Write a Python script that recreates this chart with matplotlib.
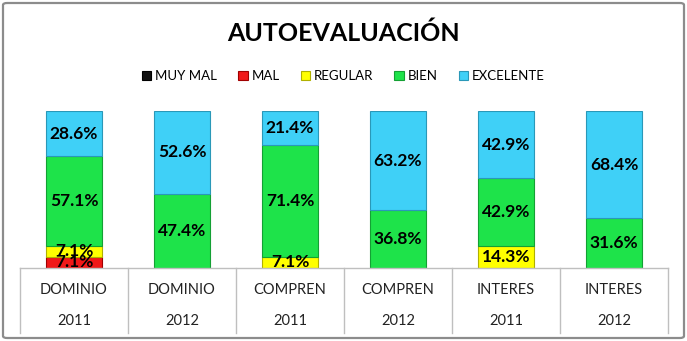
import matplotlib
matplotlib.use('agg')
import matplotlib.pyplot as plt
import numpy as np
from matplotlib.patches import FancyBboxPatch

plt.rcParams['font.family'] = ['Lato', 'DejaVu Sans']

# survey results (% of answers) per area and year
areas = ["DOMINIO", "DOMINIO", "COMPREN", "COMPREN", "INTERES", "INTERES"]
years = ["2011", "2012", "2011", "2012", "2011", "2012"]
levels = ["MUY MAL", "MAL", "REGULAR", "BIEN", "EXCELENTE"]
muy_mal = [0.0, 0.0, 0.0, 0.0, 0.0, 0.0]
mal = [7.1, 0.0, 0.0, 0.0, 0.0, 0.0]
regular = [7.1, 0.0, 7.1, 0.0, 14.3, 0.0]
bien = [57.1, 47.4, 71.4, 36.8, 42.9, 31.6]
excelente = [28.6, 52.6, 21.4, 63.2, 42.9, 68.4]

series = [muy_mal, mal, regular, bien, excelente]
colors = ["#111111", "#F01818", "#FFFF00", "#1EE34A", "#3FD0F7"]
edges = ["#000000", "#A00000", "#B0B000", "#14A034", "#2A98B8"]

W, H = 687, 341
fig = plt.figure(figsize=(W / 100, H / 100), dpi=100)
fig.patch.set_facecolor("white")
fig.patches.append(FancyBboxPatch((3 / W, 3 / H), 1 - 6 / W, 1 - 6 / H,
                                  boxstyle="round,pad=0,rounding_size=0.006",
                                  transform=fig.transFigure, fill=False,
                                  edgecolor="#8C8C8C", linewidth=1.6))

ax = fig.add_axes([20 / W, 1 - 268 / H, 648 / W, 157 / H])
x = np.arange(len(areas))
bottom = np.zeros(len(areas))
for vals, col, ec, lab in zip(series, colors, edges, levels):
    vals = np.array(vals)
    ax.bar(x, vals, 0.52, bottom=bottom, color=col, edgecolor=ec,
           linewidth=0.8, label=lab)
    for xi, b, v in zip(x, bottom, vals):
        if v > 0:
            ax.text(xi, b + v / 2, "{:.1f}%".format(v), ha="center",
                    va="center", fontsize=12.5, fontweight="bold",
                    color="black")
    bottom += vals

ax.set_xlim(-0.5, len(areas) - 0.5)
ax.set_ylim(0, 100)
for s in ax.spines.values():
    s.set_visible(False)
ax.set_xticks([])
ax.set_yticks([])

# two-level category table under the bars
tr = ax.get_xaxis_transform()
grid = "#BFBFBF"
ax.plot([-0.5, len(areas) - 0.5], [0, 0], color=grid, lw=1,
        transform=tr, clip_on=False)
for xb in np.arange(-0.5, len(areas), 1.0):
    ax.plot([xb, xb], [0, -65 / 157], color=grid, lw=1,
            transform=tr, clip_on=False)
for xi, a, yr in zip(x, areas, years):
    ax.text(xi, -22 / 157, a, transform=tr, ha="center", va="center",
            fontsize=10.5, color="#222222")
    ax.text(xi, -53 / 157, yr, transform=tr, ha="center", va="center",
            fontsize=10.5, color="#222222")

fig.text(0.5, 1 - 33 / H, "AUTOEVALUACIÓN", ha="center", va="center",
         fontsize=18, fontweight="bold")

handles, labels = ax.get_legend_handles_labels()
fig.legend(handles, labels, loc="center", bbox_to_anchor=(0.5, 1 - 76 / H),
           ncol=5, frameon=False, fontsize=9.5, handlelength=0.7,
           handleheight=0.7, handletextpad=0.3, columnspacing=1.6)

fig.savefig("out.png", dpi=100)
